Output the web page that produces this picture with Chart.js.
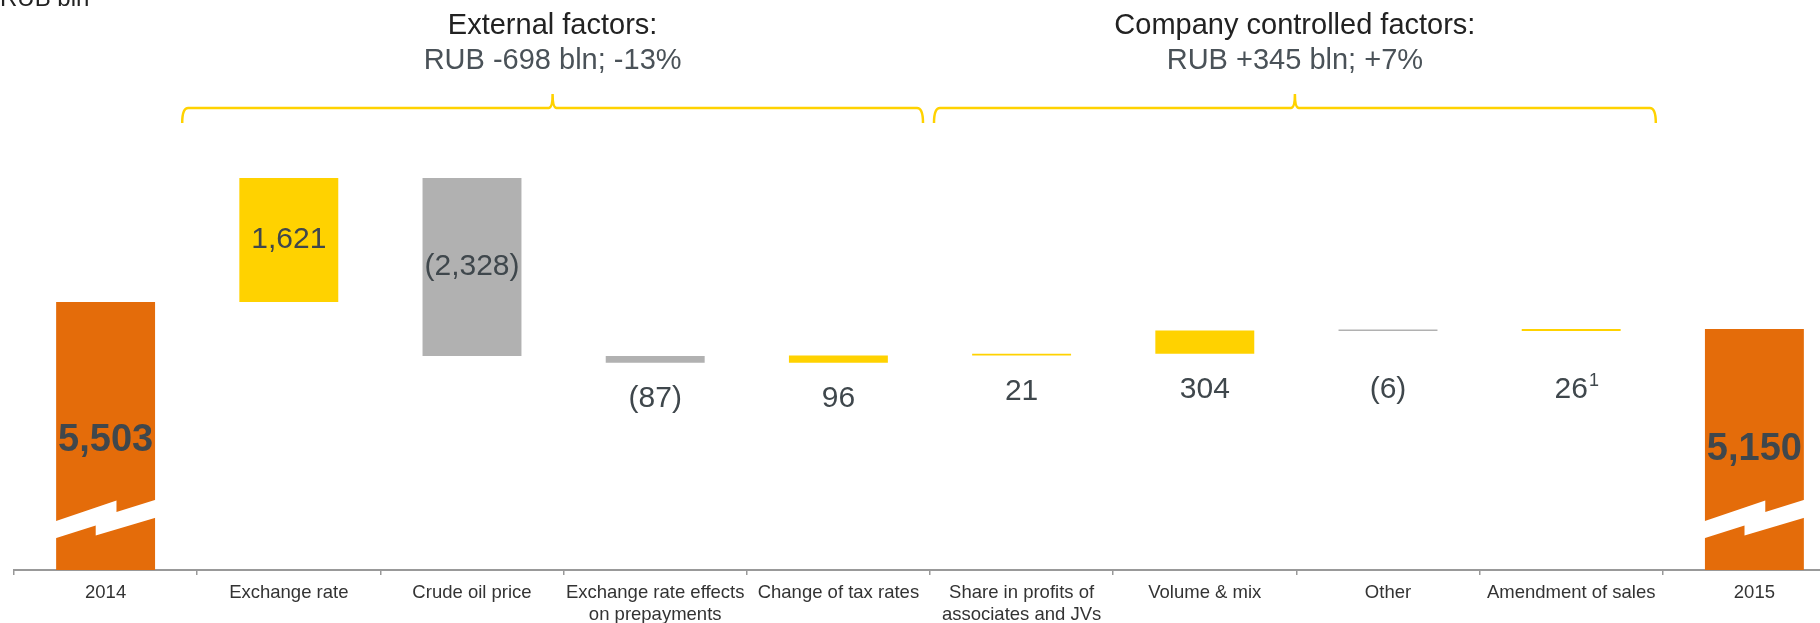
<!DOCTYPE html>
<html>
<head>
<meta charset="utf-8">
<script src="https://cdn.jsdelivr.net/npm/chart.js@4.4.1/dist/chart.umd.min.js"></script>
<style>
  html, body { margin: 0; padding: 0; background: #fff; overflow: hidden; }
  #wrap { width: 1850px; height: 623px; }
</style>
</head>
<body>
<div id="wrap"><canvas id="waterfall" width="1850" height="623"></canvas></div>
<script>
// chart data
const categories = ['2014', 'Exchange rate', 'Crude oil price', ['Exchange rate effects', 'on prepayments'],
  'Change of tax rates', ['Share in profits of', 'associates and JVs'], 'Volume & mix', 'Other',
  'Amendment of sales', '2015'];
const changes = [5503, 1621, -2328, -87, 96, 21, 304, -6, 26, 5150];
const isTotal = [true, false, false, false, false, false, false, false, false, true];
const valueLabels = ['5,503', '1,621', '(2,328)', '(87)', '96', '21', '304', '(6)', '26', '5,150'];
const footnotes = ['', '', '', '', '', '', '', '', '1', ''];
const groupTitles = ['External factors:', 'Company controlled factors:'];
const groupTotals = ['RUB -698 bln; -13%', 'RUB +345 bln; +7%'];
const groupFirst = [1, 5];
const groupLast = [4, 8];
const unitLabel = 'RUB bln';
const axisMin = 2000;   // broken axis starts here
const axisMax = 8000;

const ORANGE = '#E46C0A', YELLOW = '#FFD200', GREY = '#B1B1B1';
const FONT = "'Liberation Sans', Arial, sans-serif";

// running totals -> floating bars
let level = 0;
const ranges = changes.map((v, i) => {
    if (isTotal[i]) { level = v; return [axisMin, v]; }
    const start = level;
    level += v;
    return [start, level];
});
const colors = changes.map((v, i) => isTotal[i] ? ORANGE : (v >= 0 ? YELLOW : GREY));

function drawBrace(ctx, x1, x2, yLine, depth, peak) {
    const xm = (x1 + x2) / 2;
    ctx.beginPath();
    ctx.moveTo(x1, yLine + depth);
    ctx.quadraticCurveTo(x1, yLine, x1 + 6, yLine);
    ctx.lineTo(xm - 4, yLine);
    ctx.quadraticCurveTo(xm, yLine, xm, yLine - peak);
    ctx.quadraticCurveTo(xm, yLine, xm + 4, yLine);
    ctx.lineTo(x2 - 6, yLine);
    ctx.quadraticCurveTo(x2, yLine, x2, yLine + depth);
    ctx.stroke();
}

const annotations = {
    id: 'annotations',
    afterDatasetsDraw(chart) {
        const ctx = chart.ctx;
        const meta = chart.getDatasetMeta(0);
        const base = chart.chartArea.bottom;
        const breakY = base - 48;
        ctx.save();

        // axis break marks on the total bars
        meta.data.forEach((bar, i) => {
            if (!isTotal[i]) return;
            const w = bar.width, L = bar.x - w / 2;
            const pts = [[0, 0], [0.61, -21.5], [0.61, -10], [1, -23], [1, -5], [0.40, 13.5], [0.40, 3.5], [0, 17]];
            ctx.fillStyle = '#fff';
            ctx.beginPath();
            pts.forEach(([fx, dy], k) => {
                let x = L + fx * w;
                if (fx === 0) x -= 3;
                if (fx === 1) x += 3;
                k ? ctx.lineTo(x, breakY + dy) : ctx.moveTo(x, breakY + dy);
            });
            ctx.closePath();
            ctx.fill();
        });

        // value labels
        ctx.textAlign = 'center';
        ctx.textBaseline = 'middle';
        meta.data.forEach((bar, i) => {
            ctx.fillStyle = '#3f474c';
            const bottom = Math.max(bar.y, bar.base);
            let y;
            if (isTotal[i]) {
                ctx.font = 'bold 38px ' + FONT;
                y = bar.y + (breakY - 13 - bar.y) * 0.67;
            } else if (Math.abs(changes[i]) > 1000) {
                ctx.font = '30px ' + FONT;
                y = (bar.y + bar.base) / 2;
            } else {
                ctx.font = '30px ' + FONT;
                y = Math.max(base - 180, bottom + 36);
            }
            ctx.fillText(valueLabels[i], bar.x, y);
            if (footnotes[i]) {
                const tw = ctx.measureText(valueLabels[i]).width;
                ctx.font = '18px ' + FONT;
                ctx.textAlign = 'left';
                ctx.fillText(footnotes[i], bar.x + tw / 2 + 1, y - 9);
                ctx.textAlign = 'center';
            }
        });

        // group braces and titles
        const xs = chart.scales.x;
        const half = (xs.getPixelForValue(1) - xs.getPixelForValue(0)) / 2;
        const insetL = [-15, 4];
        groupTitles.forEach((t, g) => {
            const x1 = xs.getPixelForValue(groupFirst[g]) - half + insetL[g];
            const x2 = xs.getPixelForValue(groupLast[g]) + half - 7;
            ctx.strokeStyle = YELLOW;
            ctx.lineWidth = 2.5;
            drawBrace(ctx, x1, x2, 108, 15, 14);
            const xm = (x1 + x2) / 2;
            ctx.font = '29px ' + FONT;
            ctx.fillStyle = '#222';
            ctx.fillText(t, xm, 26);
            ctx.fillStyle = '#4a5258';
            ctx.fillText(groupTotals[g], xm, 61);
        });

        // unit label, cut by the top edge as in the source
        ctx.textAlign = 'left';
        ctx.textBaseline = 'alphabetic';
        ctx.fillStyle = '#222';
        ctx.font = '24px ' + FONT;
        ctx.fillText(unitLabel, 0, 6);
        ctx.restore();
    }
};

new Chart(document.getElementById('waterfall'), {
    type: 'bar',
    data: {
        labels: categories,
        datasets: [{
            data: ranges,
            backgroundColor: colors,
            borderWidth: 0,
            barPercentage: 0.54,
            categoryPercentage: 1,
            minBarLength: 1.5
        }]
    },
    options: {
        responsive: false,
        animation: false,
        layout: { padding: { top: 111, left: 14, right: 4, bottom: 0 } },
        plugins: { legend: { display: false }, tooltip: { enabled: false } },
        scales: {
            x: {
                grid: { drawOnChartArea: false, color: '#999', tickLength: 5, lineWidth: 1.5, offset: true },
                border: { color: '#999', width: 2 },
                ticks: { color: '#333', font: { family: FONT, size: 18.5 }, padding: 7, maxRotation: 0, autoSkip: false },
                afterFit(scale) { scale.height = 53; }
            },
            y: { display: false, min: axisMin, max: axisMax }
        }
    },
    plugins: [annotations]
});
</script>
</body>
</html>
